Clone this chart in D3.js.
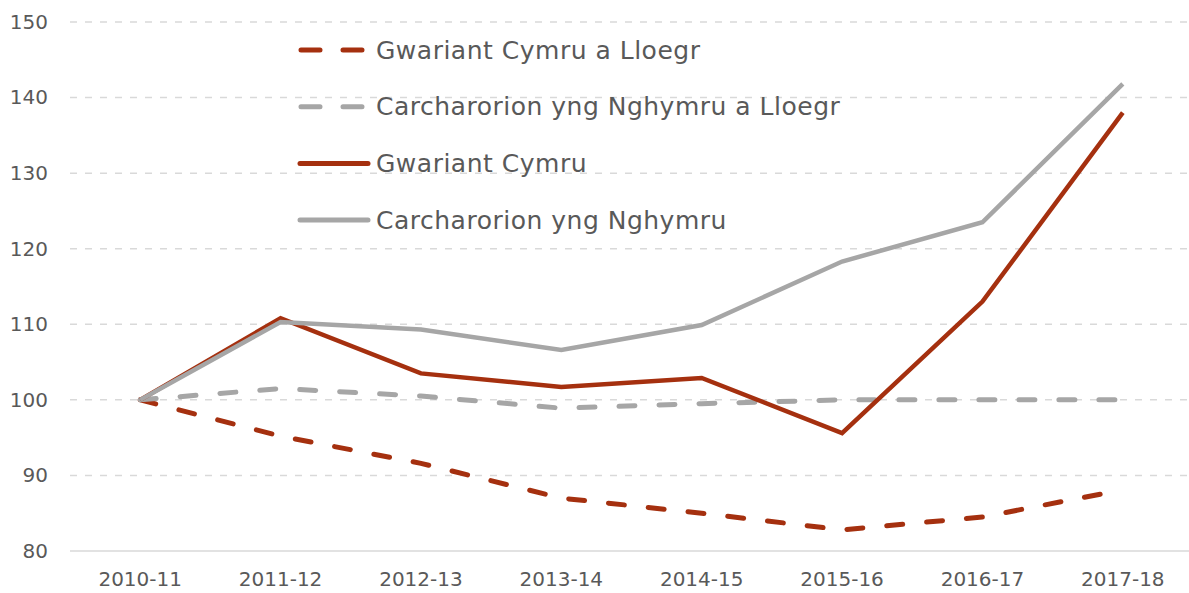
<!DOCTYPE html>
<html>
<head>
<meta charset="utf-8">
<script src="https://cdn.jsdelivr.net/npm/d3@7"></script>
<style>
  body { margin: 0; background: #fff; }
  text { font-family: "DejaVu Sans", sans-serif; fill: #595959; }
</style>
</head>
<body>
<div id="chart"></div>
<script>
// categories and series values (index, 2010-11 = 100)
var years = ["2010-11", "2011-12", "2012-13", "2013-14", "2014-15", "2015-16", "2016-17", "2017-18"];
var spendEW = [100, 95.2, 91.6, 87.0, 85.0, 82.8, 84.5, 88.1];
var prisonersEW = [100, 101.5, 100.5, 98.9, 99.5, 100, 100, 100];
var spendWales = [100, 110.8, 103.5, 101.7, 102.9, 95.6, 113.0, 138.0];
var prisonersWales = [100, 110.3, 109.3, 106.6, 109.9, 118.3, 123.5, 141.8];
var yTicks = [80, 90, 100, 110, 120, 130, 140, 150];

var series = [
  {name: "Gwariant Cymru a Lloegr", values: spendEW, color: "#a5300f", dashed: true},
  {name: "Carcharorion yng Nghymru a Lloegr", values: prisonersEW, color: "#a6a6a6", dashed: true},
  {name: "Gwariant Cymru", values: spendWales, color: "#a5300f", dashed: false},
  {name: "Carcharorion yng Nghymru", values: prisonersWales, color: "#a6a6a6", dashed: false}
];

var W = 1189, H = 593;
var plotLeft = 70, plotRight = 1193, plotTop = 22, plotBottom = 551;

var svg = d3.select("#chart").append("svg")
  .attr("width", W)
  .attr("height", H);

var x = d3.scaleBand().domain(years).range([plotLeft, plotRight]).padding(0);
var y = d3.scaleLinear().domain([80, 150]).range([plotBottom, plotTop]);

// gridlines
svg.append("g")
  .selectAll("line")
  .data(yTicks.filter(function(d) { return d > 80; }))
  .enter().append("line")
  .attr("x1", plotLeft).attr("x2", W)
  .attr("y1", function(d) { return y(d); })
  .attr("y2", function(d) { return y(d); })
  .attr("stroke", "#d9d9d9")
  .attr("stroke-width", 1.5)
  .attr("stroke-dasharray", "7,8");

// baseline
svg.append("line")
  .attr("x1", plotLeft).attr("x2", W)
  .attr("y1", y(80)).attr("y2", y(80))
  .attr("stroke", "#d9d9d9")
  .attr("stroke-width", 1.5);

// y axis labels
var yAxis = svg.append("g")
  .attr("transform", "translate(" + 48 + ",0)")
  .call(d3.axisLeft(y).tickValues(yTicks).tickSize(0).tickPadding(0));
yAxis.select(".domain").remove();
yAxis.selectAll("text")
  .attr("font-size", "20px")
  .attr("font-family", "DejaVu Sans, sans-serif")
  .attr("fill", "#595959");

// x axis labels
var xAxis = svg.append("g")
  .attr("transform", "translate(0," + plotBottom + ")")
  .call(d3.axisBottom(x).tickSize(0).tickPadding(21));
xAxis.select(".domain").remove();
xAxis.selectAll("text")
  .attr("font-size", "20px")
  .attr("font-family", "DejaVu Sans, sans-serif")
  .attr("fill", "#595959");

var line = d3.line()
  .x(function(d, i) { return x(years[i]) + x.bandwidth() / 2; })
  .y(function(d) { return y(d); });

svg.append("g")
  .selectAll("path")
  .data(series)
  .enter().append("path")
  .attr("d", function(d) { return line(d.values); })
  .attr("fill", "none")
  .attr("stroke", function(d) { return d.color; })
  .attr("stroke-width", function(d) { return d.dashed ? 5 : 4.5; })
  .attr("stroke-linecap", function(d) { return d.dashed ? "round" : "butt"; })
  .attr("stroke-linejoin", "miter")
  .attr("stroke-dasharray", function(d) { return d.dashed ? "16,24" : null; });

// legend
var legend = svg.append("g")
  .attr("transform", "translate(298,50)");

var item = legend.selectAll("g")
  .data(series)
  .enter().append("g")
  .attr("transform", function(d, i) { return "translate(0," + (i * 56.7) + ")"; });

item.append("line")
  .attr("x1", function(d) { return d.dashed ? 3 : 2; })
  .attr("x2", function(d) { return d.dashed ? 69 : 70; })
  .attr("y1", 0).attr("y2", 0)
  .attr("stroke", function(d) { return d.color; })
  .attr("stroke-width", 5)
  .attr("stroke-linecap", "round")
  .attr("stroke-dasharray", function(d) { return d.dashed ? "19,23" : null; });

item.append("text")
  .attr("x", 78)
  .attr("y", 0)
  .attr("dy", "0.35em")
  .attr("font-size", "25px")
  .attr("letter-spacing", "0.5px")
  .text(function(d) { return d.name; });
</script>
</body>
</html>
